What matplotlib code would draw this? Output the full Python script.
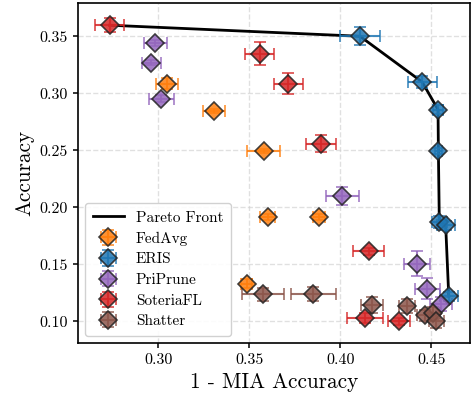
import numpy as np
import matplotlib
matplotlib.use("Agg")
import matplotlib.pyplot as plt

plt.rcParams["font.family"] = "serif"
plt.rcParams["font.serif"] = ["cmr10", "DejaVu Serif"]
plt.rcParams["mathtext.fontset"] = "cm"
plt.rcParams["axes.formatter.use_mathtext"] = True

# data: (1 - MIA acc, acc, xerr, yerr)
methods = ["FedAvg", "ERIS", "PriPrune", "SoteriaFL", "Shatter"]
colors = ["#ff7f0e", "#1f77b4", "#9467bd", "#d62728", "#8c564b"]

fedavg_x = [0.3049, 0.3305, 0.3579, 0.3601, 0.3884, 0.3488]
fedavg_y = [0.3085, 0.2845, 0.2494, 0.1915, 0.1915, 0.1331]
fedavg_xe = [0.006, 0.006, 0.009, 0.004, 0.0035, 0.003]
fedavg_ye = [0.005, 0.002, 0.002, 0.003, 0.003, 0.004]

eris_x = [0.4109, 0.4451, 0.4538, 0.4540, 0.4545, 0.4580, 0.4597]
eris_y = [0.3500, 0.3099, 0.2857, 0.2494, 0.1872, 0.1843, 0.1220]
eris_xe = [0.011, 0.008, 0.003, 0.002, 0.004, 0.005, 0.005]
eris_ye = [0.008, 0.005, 0.004, 0.003, 0.005, 0.004, 0.004]

priprune_x = [0.2985, 0.2963, 0.3018, 0.4012, 0.4423, 0.4480, 0.4556]
priprune_y = [0.3441, 0.3269, 0.2953, 0.2100, 0.1507, 0.1287, 0.1156]
priprune_xe = [0.0065, 0.005, 0.007, 0.009, 0.007, 0.007, 0.006]
priprune_ye = [0.003, 0.002, 0.003, 0.008, 0.011, 0.009, 0.006]

soteria_x = [0.2733, 0.3557, 0.3716, 0.3895, 0.4158, 0.4137, 0.4323]
soteria_y = [0.3597, 0.3348, 0.3085, 0.2559, 0.1614, 0.1030, 0.1000]
soteria_xe = [0.008, 0.008, 0.0078, 0.008, 0.0085, 0.010, 0.006]
soteria_ye = [0.006, 0.010, 0.009, 0.0075, 0.003, 0.004, 0.003]

shatter_x = [0.3575, 0.3853, 0.4177, 0.4369, 0.4466, 0.4508, 0.4529]
shatter_y = [0.1237, 0.1243, 0.1147, 0.1133, 0.1053, 0.1073, 0.1002]
shatter_xe = [0.0114, 0.0124, 0.006, 0.0045, 0.0045, 0.004, 0.004]
shatter_ye = [0.006, 0.006, 0.007, 0.006, 0.005, 0.005, 0.006]

all_data = [
    (fedavg_x, fedavg_y, fedavg_xe, fedavg_ye),
    (eris_x, eris_y, eris_xe, eris_ye),
    (priprune_x, priprune_y, priprune_xe, priprune_ye),
    (soteria_x, soteria_y, soteria_xe, soteria_ye),
    (shatter_x, shatter_y, shatter_xe, shatter_ye),
]

# pareto front: maximise both axes
pts = []
for d in all_data:
    pts += list(zip(d[0], d[1]))
pts.sort(key=lambda p: -p[1])
front = []
best_x = -1
for px, py in pts:
    if px > best_x:
        front.append((px, py))
        best_x = px
front_x = [p[0] for p in front]
front_y = [p[1] for p in front]

fig = plt.figure(figsize=(4.71, 3.98), dpi=100)
ax = fig.add_axes([0.165, 0.137, 0.833, 0.855])

ax.plot(front_x, front_y, color="black", lw=2, label="Pareto Front", zorder=2)

for name, col, d in zip(methods, colors, all_data):
    ax.errorbar(d[0], d[1], xerr=d[2], yerr=d[3], fmt="D", color=col,
                ecolor=col, elinewidth=1.5, capsize=4, capthick=1.5,
                markersize=9, markeredgecolor="#222222", markeredgewidth=1.2,
                alpha=0.85, label=name, zorder=3)

ax.set_xlim(0.2558, 0.4714)
ax.set_ylim(0.0807, 0.379)
ax.set_xticks([0.30, 0.35, 0.40, 0.45])
ax.set_yticks([0.10, 0.15, 0.20, 0.25, 0.30, 0.35])
ax.xaxis.set_major_formatter(matplotlib.ticker.FormatStrFormatter("%.2f"))
ax.yaxis.set_major_formatter(matplotlib.ticker.FormatStrFormatter("%.2f"))
ax.tick_params(labelsize=11.5, width=1.1)
for s in ax.spines.values():
    s.set_linewidth(1.2)
ax.grid(True, ls="--", color="#cccccc", alpha=0.6, lw=1)
ax.set_xlabel("1 - MIA Accuracy", fontsize=15.3)
ax.set_ylabel("Accuracy", fontsize=15.3)
ax.legend(loc="lower left", fontsize=11, framealpha=0.9, handletextpad=0.8,
          borderpad=0.5, labelspacing=0.45)

fig.savefig("out.png", dpi=100)
